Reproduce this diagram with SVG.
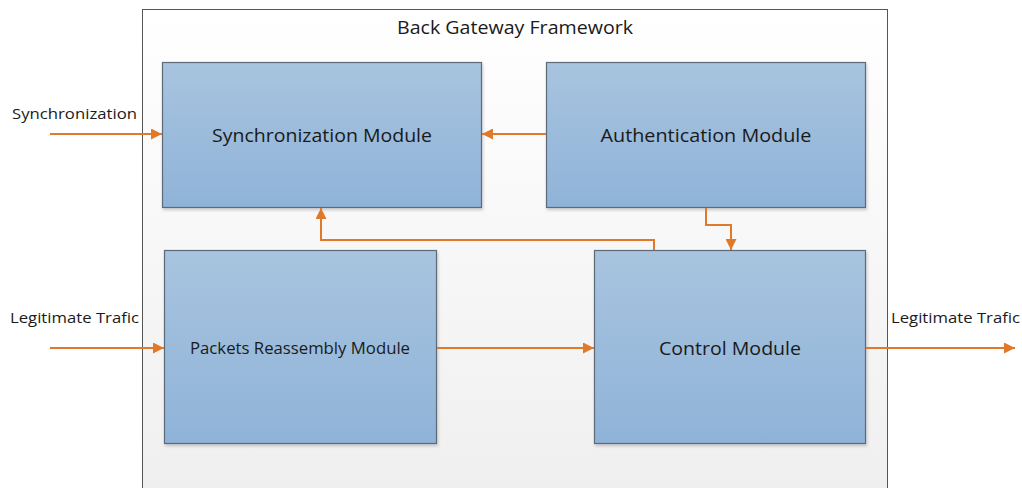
<svg xmlns="http://www.w3.org/2000/svg" width="1022" height="488" viewBox="0 0 1022 488">
<defs>
<linearGradient id="bg" x1="0" y1="0" x2="0" y2="1">
<stop offset="0" stop-color="#ffffff"/><stop offset="1" stop-color="#efefef"/>
</linearGradient>
<linearGradient id="box" x1="0" y1="0" x2="0" y2="1">
<stop offset="0" stop-color="#a8c4df"/><stop offset="1" stop-color="#8fb3d8"/>
</linearGradient>
<filter id="sh" x="-5%" y="-5%" width="110%" height="115%">
<feDropShadow dx="1" dy="2" stdDeviation="1.5" flood-color="#000" flood-opacity="0.2"/>
</filter>
<marker id="ah" viewBox="0 0 10 10" refX="10" refY="5" markerWidth="11" markerHeight="11" markerUnits="userSpaceOnUse" orient="auto">
<path d="M0,0 L10,5 L0,10 z" fill="#e07a2a"/>
</marker>
</defs>
<style>
.m{fill:url(#box);stroke:#5c6b7a;stroke-width:1.2;filter:url(#sh)}
.t{font-family:"Open Sans","Liberation Sans",sans-serif;fill:#1a1a1a;text-anchor:middle}
.l{font-family:"Open Sans","Liberation Sans",sans-serif;fill:#1a1a1a;font-size:15px}
.c{fill:none;stroke:#e07a2a;stroke-width:2;marker-end:url(#ah)}
</style>
<rect width="1022" height="488" fill="#ffffff"/>
<g id="framework">
<rect x="142.5" y="9.5" width="745" height="490" fill="url(#bg)" stroke="#555" stroke-width="1"/>
<text class="t" x="515" y="34" font-size="18" textLength="236" lengthAdjust="spacingAndGlyphs">Back Gateway Framework</text>
</g>
<g id="sync">
<rect class="m" x="162.5" y="62.5" width="319" height="145"/>
<text class="t" x="322" y="142" font-size="18" textLength="220" lengthAdjust="spacingAndGlyphs">Synchronization Module</text>
</g>
<g id="auth">
<rect class="m" x="546.5" y="62.5" width="319" height="145"/>
<text class="t" x="706" y="142" font-size="18" textLength="211" lengthAdjust="spacingAndGlyphs">Authentication Module</text>
</g>
<g id="packets">
<rect class="m" x="164.5" y="250.5" width="272" height="193"/>
<text class="t" x="300" y="354" font-size="16" textLength="220" lengthAdjust="spacingAndGlyphs">Packets Reassembly Module</text>
</g>
<g id="control">
<rect class="m" x="594.5" y="250.5" width="271" height="193"/>
<text class="t" x="730" y="355" font-size="19" textLength="142" lengthAdjust="spacingAndGlyphs">Control Module</text>
</g>
<g id="labels">
<text class="l" x="12" y="119" textLength="125" lengthAdjust="spacingAndGlyphs">Synchronization</text>
<text class="l" x="10" y="323" textLength="129" lengthAdjust="spacingAndGlyphs">Legitimate Trafic</text>
<text class="l" x="891" y="323" textLength="129" lengthAdjust="spacingAndGlyphs">Legitimate Trafic</text>
</g>
<g id="connectors">
<path class="c" d="M50,134 H162"/>
<path class="c" d="M546,134 H482"/>
<path class="c" d="M706,208 V225 H731 V250"/>
<path class="c" d="M654,250 V240 H321 V208"/>
<path class="c" d="M437,348 H594"/>
<path class="c" d="M50,348 H164"/>
<path class="c" d="M866,348 H1015"/>
</g>
</svg>
